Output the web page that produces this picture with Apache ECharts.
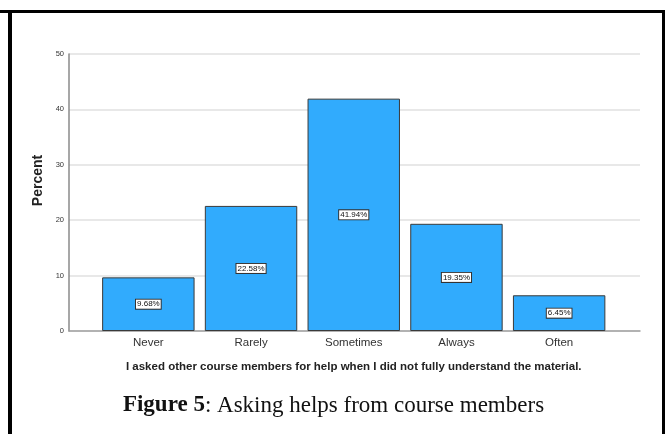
<!DOCTYPE html>
<html>
<head>
<meta charset="utf-8">
<script src="https://cdn.jsdelivr.net/npm/echarts@6/dist/echarts.min.js"></script>
<style>
  html, body { margin: 0; padding: 0; background: #fff; }
  #chart { width: 667px; height: 434px; }
</style>
</head>
<body>
<div id="chart"></div>
<script>
// Response categories and percentages
const categories = ['Never', 'Rarely', 'Sometimes', 'Always', 'Often'];
const percents = [9.68, 22.58, 41.94, 19.35, 6.45];
const yTicks = { min: 0, max: 50, interval: 10 };
const xTitle = 'I asked other course members for help when I did not fully understand the material.';
const yTitle = 'Percent';

const chart = echarts.init(document.getElementById('chart'), null, { renderer: 'canvas' });

const option = {
  animation: false,
  backgroundColor: '#fff',
  title: {
    left: 'center',
    top: 389,
    text: '{b|Figure 5}{n|: Asking helps from course members}',
    textStyle: {
      rich: {
        b: { fontFamily: 'Liberation Serif', fontWeight: 'bold', fontSize: 23, color: '#111' },
        n: { fontFamily: 'Liberation Serif', fontWeight: 'normal', fontSize: 23, color: '#111' }
      }
    }
  },
  graphic: [
    // page frame around the figure
    { type: 'line', shape: { x1: 0, y1: 11.5, x2: 664, y2: 11.5 }, style: { stroke: '#000', lineWidth: 3 } },
    { type: 'line', shape: { x1: 10, y1: 10, x2: 10, y2: 434 }, style: { stroke: '#000', lineWidth: 4 } },
    { type: 'line', shape: { x1: 663.5, y1: 10, x2: 663.5, y2: 434 }, style: { stroke: '#000', lineWidth: 3 } }
  ],
  grid: [
    { left: 69, right: 27, top: 54, bottom: 103 },
    { left: 97, right: 56.5, top: 54, bottom: 103 }
  ],
  xAxis: [
    {
      gridIndex: 0, type: 'value', min: 0, max: 1,
      axisLine: { show: true, lineStyle: { color: '#a0a0a0', width: 1.5 } },
      axisTick: { show: false }, axisLabel: { show: false }, splitLine: { show: false }
    },
    {
      gridIndex: 1, type: 'category', data: categories,
      axisLine: { show: false }, axisTick: { show: false },
      axisLabel: { fontFamily: 'Liberation Sans', fontSize: 11.5, color: '#333', margin: 6 },
      name: xTitle, nameLocation: 'middle', nameGap: 30,
      nameTextStyle: { fontFamily: 'Liberation Sans', fontWeight: 'bold', fontSize: 11.5, color: '#222' }
    }
  ],
  yAxis: [
    {
      gridIndex: 0, type: 'value', min: yTicks.min, max: yTicks.max, interval: yTicks.interval,
      axisLine: { show: true, lineStyle: { color: '#8a8a8a', width: 1.5 } },
      axisTick: { show: false },
      axisLabel: { fontFamily: 'Liberation Sans', fontSize: 7.5, color: '#333', margin: 5 },
      splitLine: { show: true, lineStyle: { color: '#e0e0e0', width: 1.5 } },
      name: yTitle, nameLocation: 'middle', nameGap: 19,
      nameTextStyle: {
        fontFamily: 'Liberation Sans', fontWeight: 'bold', fontSize: 14, color: '#222',
        padding: [0, 0, 0, 24]
      }
    },
    {
      gridIndex: 1, type: 'value', min: yTicks.min, max: yTicks.max, interval: yTicks.interval,
      show: false
    }
  ],
  series: [
    {
      type: 'bar',
      xAxisIndex: 1, yAxisIndex: 1,
      data: percents,
      barCategoryGap: '10%',
      itemStyle: { color: '#31abfd', borderColor: '#3a3a3a', borderWidth: 1 },
      label: {
        show: true, position: 'inside',
        formatter: p => p.value.toFixed(2) + '%',
        fontFamily: 'Liberation Sans', fontSize: 8, color: '#111',
        backgroundColor: '#fff', borderColor: '#333', borderWidth: 1,
        padding: [1, 1, 0, 1]
      }
    }
  ]
};

chart.setOption(option);
</script>
</body>
</html>
